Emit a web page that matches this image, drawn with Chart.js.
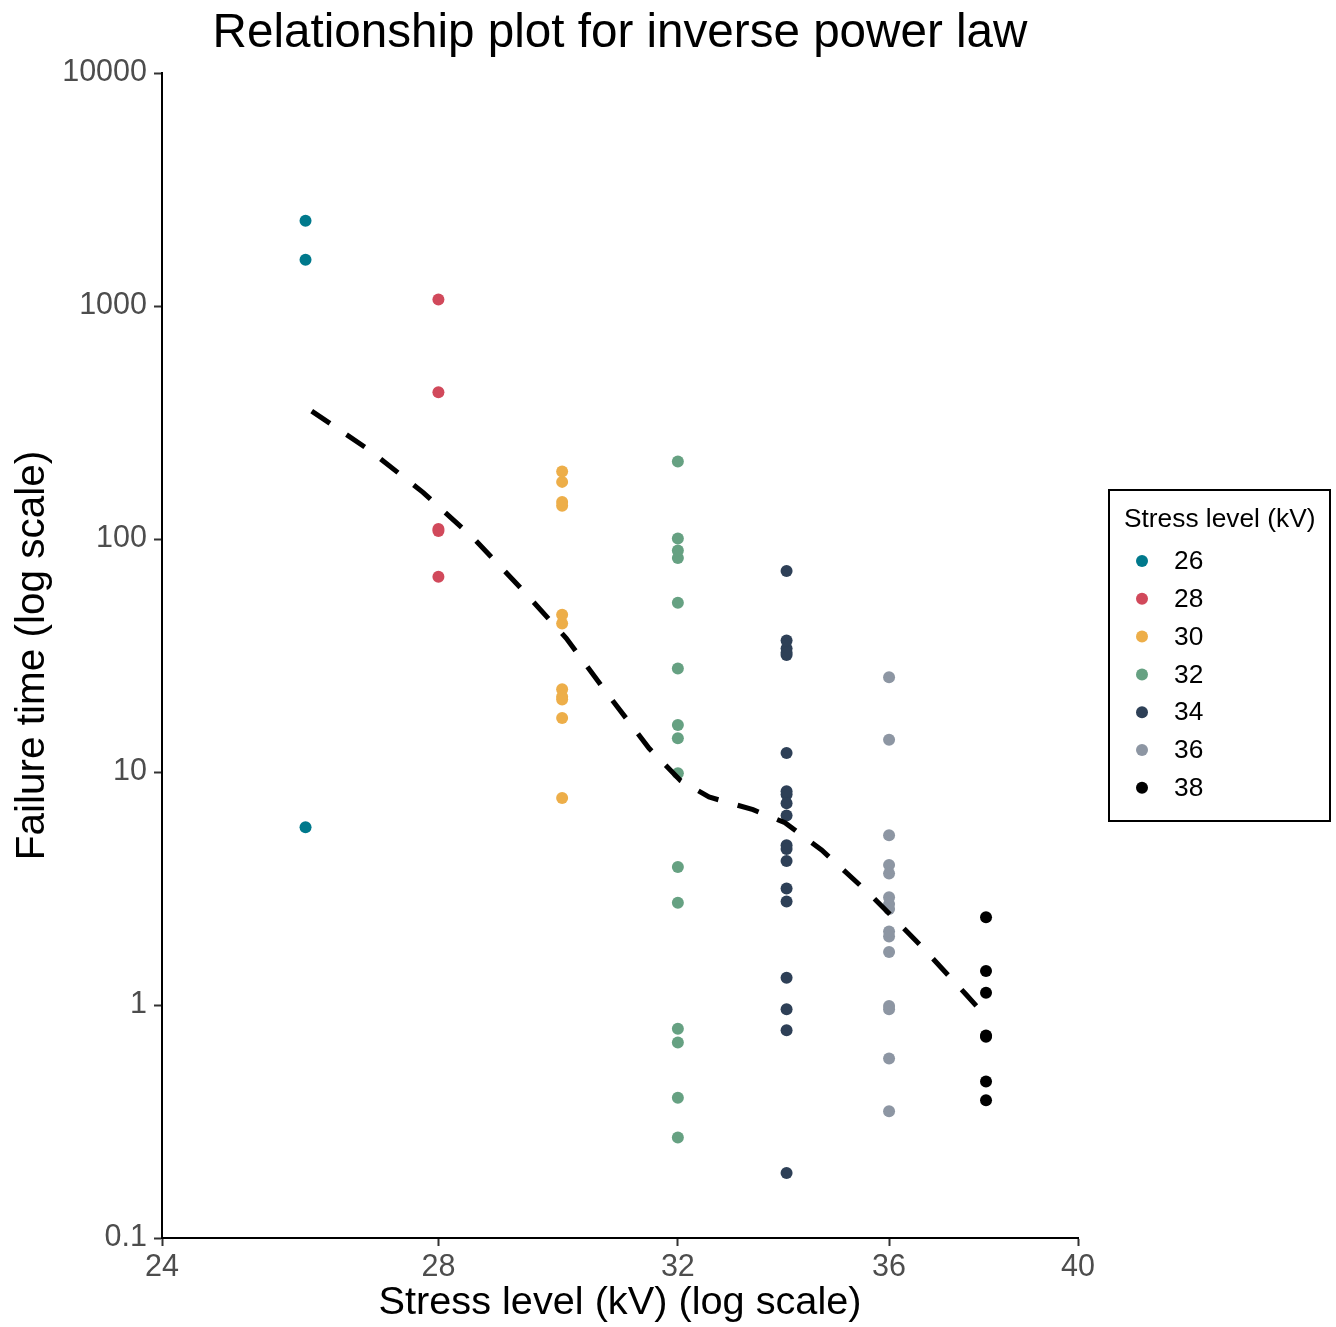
<!DOCTYPE html>
<html>
<head>
<meta charset="utf-8">
<title>Relationship plot for inverse power law</title>
<script src="https://cdn.jsdelivr.net/npm/chart.js@4.4.1/dist/chart.umd.min.js"></script>
<style>
  html, body { margin: 0; padding: 0; background: #fff; }
  #wrap { width: 1336px; height: 1327px; }
</style>
</head>
<body>
<div id="wrap"><canvas id="relplot" width="1336" height="1327"></canvas></div>
<script>
// breakdown times (minutes) per stress level (kV)
const stressLevels = [26, 28, 30, 32, 34, 36, 38];
const time26 = [5.79, 1579.52, 2323.7];
const time28 = [68.85, 108.29, 110.29, 426.07, 1067.6];
const time30 = [17.05, 22.66, 21.02, 175.88, 139.07, 144.12, 20.46, 43.40, 194.90, 47.30, 7.74];
const time32 = [0.40, 82.85, 9.88, 89.29, 215.10, 2.75, 0.79, 15.93, 3.91, 0.27, 0.69, 100.58, 27.80, 13.95, 53.24];
const time34 = [0.96, 4.15, 0.19, 0.78, 8.01, 31.75, 7.35, 6.50, 8.27, 33.91, 32.52, 3.16, 4.85, 2.78, 4.67, 1.31, 12.06, 36.71, 72.89];
const time36 = [1.97, 0.59, 2.58, 1.69, 2.71, 25.50, 0.35, 0.99, 3.99, 3.67, 2.07, 0.96, 5.35, 2.90, 13.77];
const time38 = [0.47, 0.73, 1.40, 0.74, 0.39, 1.13, 2.38];
const levelTimes = [time26, time28, time30, time32, time34, time36, time38];
const levelColors = ['#00798c', '#d1495b', '#edae49', '#66a182', '#2e4057', '#8d96a3', '#000000'];

// smoothed trend (dashed)
const trendX = [26.09, 26.94, 27.76, 28.55, 29.32, 30.07, 30.76, 31.49, 32.05, 32.56, 33.37, 33.97, 34.67, 35.65, 36.63, 37.57, 38.01];
const trendY = [354, 241, 158.6, 101, 61.4, 37.5, 21.8, 12.64, 9.18, 7.81, 6.89, 6.06, 4.63, 2.944, 1.81, 1.115, 0.886];

const xTicks = [24, 28, 32, 36, 40];
const yTicks = [0.1, 1, 10, 100, 1000, 10000];

const FONT = '"Liberation Sans", Arial, Helvetica, sans-serif';

const datasets = stressLevels.map((lvl, i) => ({
  type: 'scatter',
  label: String(lvl),
  data: levelTimes[i].map(t => ({ x: lvl, y: t })),
  backgroundColor: levelColors[i],
  borderColor: levelColors[i],
  borderWidth: 0,
  pointRadius: 6,
  pointHoverRadius: 6
}));

datasets.push({
  type: 'line',
  label: 'trend',
  data: trendX.map((x, i) => ({ x: x, y: trendY[i] })),
  borderColor: '#000',
  borderWidth: 5,
  borderDash: [22, 20],
  borderCapStyle: 'butt',
  pointRadius: 0,
  fill: false,
  tension: 0,
  order: -1
});

// boxed legend to the right of the panel
const legendBox = {
  id: 'legendBox',
  afterDraw(chart) {
    const ctx = chart.ctx;
    const left = chart.chartArea.right + 31;
    const top = 490;
    ctx.save();
    ctx.lineWidth = 2;
    ctx.strokeStyle = '#000';
    ctx.strokeRect(left, top, 221, 331);
    ctx.fillStyle = '#000';
    ctx.font = '26.3px ' + FONT;
    ctx.textBaseline = 'alphabetic';
    ctx.textAlign = 'left';
    ctx.fillText('Stress level (kV)', left + 15, top + 37);
    let row = 0;
    chart.data.datasets.forEach(ds => {
      if (ds.type === 'line') return;
      const y = top + 71 + row * 37.8;
      ctx.beginPath();
      ctx.fillStyle = ds.backgroundColor;
      ctx.arc(left + 33, y, 6, 0, Math.PI * 2);
      ctx.fill();
      ctx.fillStyle = '#000';
      ctx.textBaseline = 'middle';
      ctx.fillText(ds.label, left + 65, y + 1);
      row++;
    });
    ctx.restore();
  }
};

new Chart(document.getElementById('relplot'), {
  data: { datasets: datasets },
  plugins: [legendBox],
  options: {
    responsive: false,
    animation: false,
    devicePixelRatio: 1,
    layout: { padding: { left: 0, right: 258, top: 0, bottom: 0 } },
    plugins: {
      legend: { display: false },
      tooltip: { enabled: false },
      title: {
        display: true,
        fullSize: false,
        text: 'Relationship plot for inverse power law',
        color: '#000',
        font: { size: 47.6, family: FONT, weight: 'normal' },
        lineHeight: 1.2,
        padding: { top: 5, bottom: 10.9 }
      }
    },
    scales: {
      x: {
        type: 'logarithmic',
        min: 24,
        max: 40,
        afterBuildTicks: s => { s.ticks = xTicks.map(v => ({ value: v })); },
        afterFit: s => { s.height = 89; },
        ticks: {
          callback: v => String(v),
          color: '#4d4d4d',
          font: { size: 30.5, family: FONT },
          padding: 3,
          maxRotation: 0,
          autoSkip: false
        },
        grid: { display: true, drawOnChartArea: false, drawTicks: true, tickLength: 8, tickColor: '#333', tickWidth: 2 },
        border: { display: true, color: '#000', width: 2 },
        title: {
          display: true,
          text: 'Stress level (kV) (log scale)',
          color: '#000',
          font: { size: 39.7, family: FONT },
          padding: { top: 0, bottom: 0 }
        }
      },
      y: {
        type: 'logarithmic',
        min: 0.1,
        max: 10000,
        afterBuildTicks: s => { s.ticks = yTicks.map(v => ({ value: v })); },
        afterFit: s => { s.width = 162; },
        ticks: {
          callback: v => String(v),
          color: '#4d4d4d',
          font: { size: 30.5, family: FONT },
          padding: 7,
          autoSkip: false
        },
        grid: { display: true, drawOnChartArea: false, drawTicks: true, tickLength: 8, tickColor: '#333', tickWidth: 2 },
        border: { display: true, color: '#000', width: 2 },
        title: {
          display: true,
          text: 'Failure time (log scale)',
          color: '#000',
          font: { size: 40.5, family: FONT },
          padding: { top: 9, bottom: 0 }
        }
      }
    }
  }
});
</script>
</body>
</html>
